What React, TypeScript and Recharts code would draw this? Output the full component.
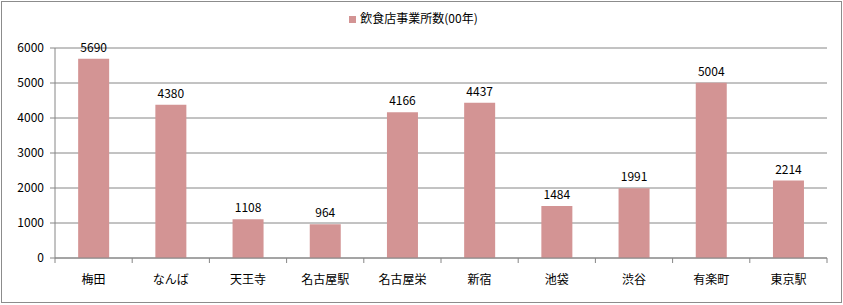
import React from 'react';
import { BarChart, Bar, XAxis, YAxis, CartesianGrid, Legend, LabelList } from 'recharts';

const stations = ['梅田', 'なんば', '天王寺', '名古屋駅', '名古屋栄', '新宿', '池袋', '渋谷', '有楽町', '東京駅'];
const restaurantCounts = [5690, 4380, 1108, 964, 4166, 4437, 1484, 1991, 5004, 2214];
const yTicks = [0, 1000, 2000, 3000, 4000, 5000, 6000];
const seriesName = '飲食店事業所数(00年)';

const data = stations.map((name, i) => ({ name, value: restaurantCounts[i] }));

const W = 843;
const H = 305;
const PLOT_LEFT = 55;
const PLOT_RIGHT = 827;
const FONT = '"Noto Sans CJK JP", "Noto Sans", sans-serif';
const BAND = (PLOT_RIGHT - PLOT_LEFT) / stations.length;

// ticks sit on category boundaries like Excel, so draw them by hand
const CategoryTick = (props: any) => {
  const { x, y, payload, index } = props;
  const left = x - BAND / 2;
  return (
    <g>
      <line x1={left} y1={y - 8} x2={left} y2={y - 3} stroke="#868686" />
      {index === stations.length - 1 && (
        <line x1={x + BAND / 2} y1={y - 8} x2={x + BAND / 2} y2={y - 3} stroke="#868686" />
      )}
      <text x={x} y={y + 18} textAnchor="middle" fontSize={12} fill="#000" fontFamily={FONT}>
        {payload.value}
      </text>
    </g>
  );
};

export default function App() {
  return (
    <div style={{ position: 'absolute', left: 0, top: 0, width: W, height: H, background: '#fff' }}>
      <div
        style={{
          position: 'absolute',
          left: 1,
          top: 1,
          width: W - 2,
          height: H - 3,
          border: '1px solid #8c8c8c',
          boxSizing: 'border-box',
        }}
      />
      <div style={{ position: 'absolute', left: 0, top: 0 }}>
        <BarChart
          width={W}
          height={H}
          data={data}
          margin={{ top: 31, right: W - PLOT_RIGHT, left: 10, bottom: 7 }}
          barCategoryGap="30%"
        >
          <CartesianGrid vertical={false} stroke="#868686" />
          <Legend
            verticalAlign="top"
            align="center"
            iconType="square"
            iconSize={7}
            wrapperStyle={{ fontFamily: FONT, fontSize: 12, color: '#000', top: 9 }}
            formatter={(v: string) => <span style={{ color: '#000' }}>{v}</span>}
          />
          <XAxis
            dataKey="name"
            height={40}
            axisLine={{ stroke: '#868686' }}
            tickLine={false}
            tick={<CategoryTick />}
            interval={0}
          />
          <YAxis
            width={45}
            domain={[0, 6000]}
            ticks={yTicks}
            axisLine={{ stroke: '#868686' }}
            tickLine={{ stroke: '#868686' }}
            tickSize={5}
            tickMargin={6}
            tick={{ fontSize: 12, fill: '#000', fontFamily: FONT }}
          />
          <Bar dataKey="value" name={seriesName} fill="#D39494" isAnimationActive={false}>
            <LabelList
              dataKey="value"
              position="top"
              offset={7}
              style={{ fontSize: 12, fill: '#000', fontFamily: FONT }}
            />
          </Bar>
        </BarChart>
      </div>
    </div>
  );
}
